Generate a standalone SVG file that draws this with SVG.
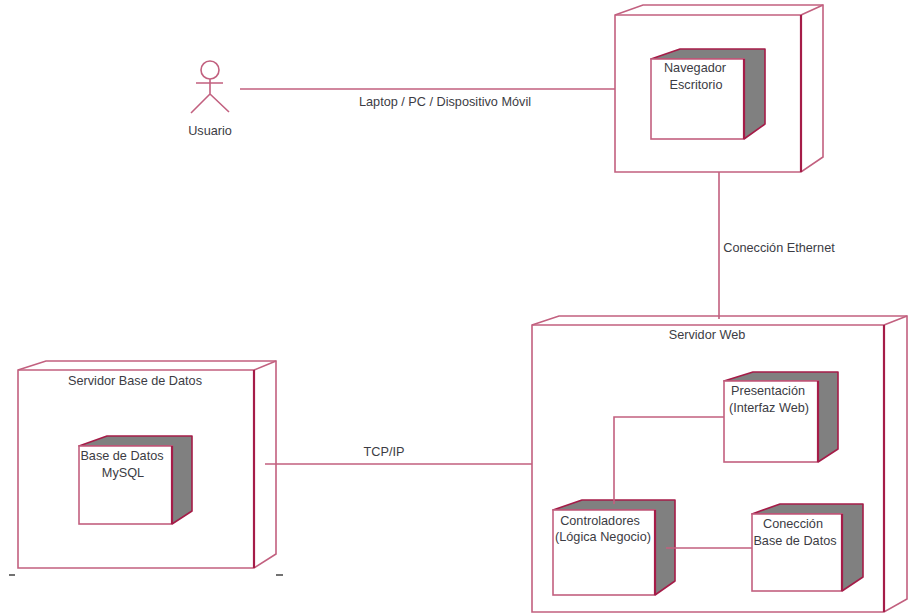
<svg xmlns="http://www.w3.org/2000/svg" width="909" height="613" viewBox="0 0 909 613">
<style>
.l{fill:none;stroke:#c2607f;stroke-width:1.6}
.f{fill:#fff;stroke:#c2607f;stroke-width:1.6}
.e{fill:none;stroke:#a51c48;stroke-width:2.2}
.g{fill:#808080;stroke:#a51c48;stroke-width:1.6;stroke-linejoin:round}
text{font-family:"Liberation Sans",Arial,sans-serif;font-size:12.7px;fill:#3c3c44;text-anchor:middle}
</style>
<rect width="909" height="613" fill="#fff"/>
<g id="node-navegador-host">
<path class="f" d="M615 15L643 5H823V157L801 172H615Z"/><path class="l" d="M801 15L823 5M615 15H801"/><path class="e" d="M801 15V172"/>
</g>
<g id="node-navegador">
<path class="g" d="M651 59L680 49H765V124L744 139V59Z"/><rect class="f" x="651" y="59" width="93" height="80"/><path class="e" d="M744 59V139"/>
<text x="695" y="72">Navegador</text><text x="696" y="89">Escritorio</text>
</g>
<g id="node-servidor-web">
<path class="f" d="M532 325L559 316H907V599L884 612H532Z"/><path class="l" d="M884 325L907 316M532 325H884"/><path class="e" d="M884 325V612"/>
<text x="707" y="339">Servidor Web</text>
</g>
<g id="node-presentacion">
<path class="g" d="M724 381L753 372H838V449L818 462V381Z"/><rect class="f" x="724" y="381" width="94" height="81"/><path class="e" d="M818 381V462"/>
<text x="768" y="395">Presentación</text><text x="769" y="412">(Interfaz Web)</text>
</g>
<g id="node-controladores">
<path class="g" d="M553 510L582 500H675V581L655 595V510Z"/><rect class="f" x="553" y="510" width="102" height="85"/><path class="e" d="M655 510V595"/>
<text x="600" y="525">Controladores</text><text x="603" y="541">(Lógica Negocio)</text>
</g>
<g id="node-conexion">
<path class="g" d="M752 514L780 504H863V577L842 591V514Z"/><rect class="f" x="752" y="514" width="90" height="77"/><path class="e" d="M842 514V591"/>
<text x="793" y="528">Conección</text><text x="795" y="545">Base de Datos</text>
</g>
<g id="node-servidor-bd">
<path class="f" d="M18 370L46 361H276V554L254 568H18Z"/><path class="l" d="M254 370L276 361M18 370H254"/><path class="e" d="M254 370V568"/>
<text x="135" y="385">Servidor Base de Datos</text>
<path d="M9 575H15M276 575H283" fill="none" stroke="#444" stroke-width="1.5"/>
</g>
<g id="node-mysql">
<path class="g" d="M79 446L107 436H192V511L172 524V446Z"/><rect class="f" x="79" y="446" width="93" height="78"/><path class="e" d="M172 446V524"/>
<text x="122" y="460">Base de Datos</text><text x="123" y="477">MySQL</text>
</g>
<g id="node-usuario">
<circle class="l" cx="210" cy="70" r="9"/><path class="l" d="M196 83H223M210 79V94L191 113M210 94L229 112"/>
<text x="210" y="135">Usuario</text>
</g>
<g id="connectors">
<path class="l" d="M240 89H615M719 172V319M265 464H532M724 417H614V504M666 548H752"/>
</g>
<g id="connector-labels">
<text x="445" y="106">Laptop / PC / Dispositivo Móvil</text>
<text x="779" y="252">Conección Ethernet</text>
<text x="384" y="456">TCP/IP</text>
</g>
</svg>
